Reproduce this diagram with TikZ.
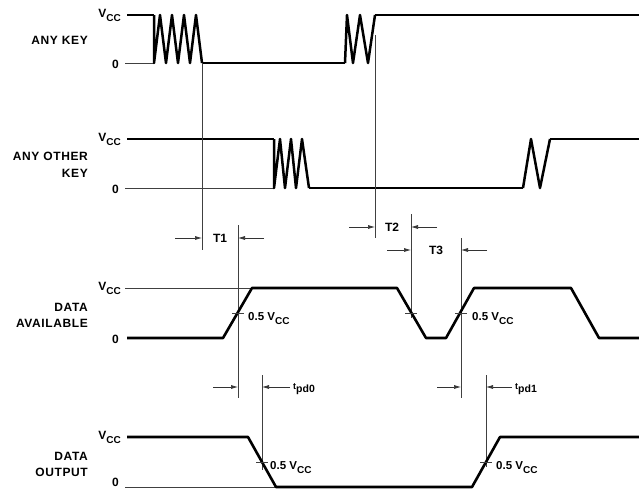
\documentclass[tikz,border=0pt]{standalone}
\usepackage{fontspec}
\setmainfont{Liberation Sans}
\newfontfamily\lblfont[LetterSpace=5]{Liberation Sans}
\usetikzlibrary{arrows.meta}
\newcommand\myvcc{V\raisebox{-4pt}{\fontsize{10}{12}\selectfont CC}}
\newcommand\mytpd[1]{{\fontsize{9}{11}\selectfont t}\raisebox{-3.5pt}{\fontsize{10.5}{12}\selectfont pd#1}}
\begin{document}
\begin{tikzpicture}[x=1pt,y=-1pt,
  wave/.style={line width=2.6pt,line join=round,line cap=butt},
  zig/.style={line width=2.5pt,line join=round},
  thin/.style={line width=0.7pt,black!75},
  arr/.style={line width=0.7pt,black!80,-{Latex[length=7pt,width=4pt]}},
  lbl/.style={font=\lblfont\bfseries\fontsize{12}{16.5}\selectfont,align=right,inner sep=0pt},
  lvl/.style={font=\bfseries\fontsize{12}{14}\selectfont,inner sep=0pt},
  half/.style={font=\bfseries\fontsize{11.5}{14}\selectfont,inner sep=0pt,anchor=base west}]
\useasboundingbox (0,0) rectangle (639,490);
% ---------- ANY KEY ----------
\node[lbl,anchor=east] (lak) at (88,40) {ANY KEY};
\node[lvl,anchor=base east] (vak) at (121,17.5) {\myvcc};
\node[lvl,anchor=east] (zak) at (119,64) {0};
\draw[thin] (125,63) -- (154,63);
\draw[wave] (127,15) -- (154,15);
\draw[zig] (154,15) -- (154,63) -- (160,15) -- (166,63) -- (172,15) -- (178,63) -- (184,15) -- (190,63) -- (196,15) -- (202,63);
\draw[wave] (202,63) -- (345,63);
\draw[zig] (345,63) -- (347,15) -- (353,63) -- (360,15) -- (368,63) -- (375,15);
\draw[wave] (375,15) -- (640,15);
% ---------- ANY OTHER KEY ----------
\node[lbl,anchor=east] (lok) at (88,165) {ANY OTHER\\KEY};
\node[lvl,anchor=base east] (vok) at (121,141.5) {\myvcc};
\node[lvl,anchor=east] (zok) at (119,189) {0};
\draw[thin] (125,188) -- (274,188);
\draw[wave] (127,139) -- (274,139);
\draw[zig] (274,139) -- (274,188) -- (280,139) -- (285,188) -- (291,139) -- (296,188) -- (302,139) -- (309,188);
\draw[wave] (309,188) -- (523,188);
\draw[zig] (523,188) -- (531,139) -- (540,188) -- (550,139);
\draw[wave] (550,139) -- (640,139);
% ---------- guide lines ----------
\coordinate (g1a) at (202,63);  \coordinate (g1b) at (202,250);
\coordinate (g2a) at (375,35);  \coordinate (g2b) at (375,238);
\coordinate (g3a) at (238,225); \coordinate (g3b) at (238,398);
\coordinate (g4a) at (411,214); \coordinate (g4b) at (411,318);
\coordinate (g5a) at (461,238); \coordinate (g5b) at (461,398);
\coordinate (g6a) at (262,375); \coordinate (g6b) at (262,470);
\coordinate (g7a) at (486,375); \coordinate (g7b) at (486,467);
\foreach \g in {1,...,7} {\draw[thin] (g\g a) -- (g\g b);}
% ---------- T1, T2, T3 ----------
\coordinate (t1l) at (175,238); \coordinate (t1r) at (264,238);
\draw[arr] (t1l) -- (202,238);
\draw[arr] (t1r) -- (238,238);
\node[lvl] (t1) at (220,238) {T1};
\coordinate (t2l) at (349,227); \coordinate (t2r) at (437,227);
\draw[arr] (t2l) -- (375,227);
\draw[arr] (t2r) -- (411,227);
\node[lvl] (t2) at (392,227) {T2};
\coordinate (t3l) at (387,250); \coordinate (t3r) at (487,250);
\draw[arr] (t3l) -- (411,250);
\draw[arr] (t3r) -- (461,250);
\node[lvl] (t3) at (436,250) {T3};
% ---------- DATA AVAILABLE ----------
\node[lbl,anchor=east] (lda) at (88,315.5) {DATA\\AVAILABLE};
\node[lvl,anchor=base east] (vda) at (121,290.5) {\myvcc};
\node[lvl,anchor=east] (zda) at (119,339) {0};
\draw[thin] (125,288) -- (252,288);
\draw[wave] (127,338) -- (223,338) -- (252,288) -- (397,288) -- (426,338) -- (446,338) -- (474,288) -- (571,288) -- (599,338) -- (640,338);
\draw[thin] (232,313) -- (244,313);
\draw[thin] (405,313) -- (417,313);
\draw[thin] (455,313) -- (467,313);
\node[half] (hda1) at (248,320) {0.5 \myvcc};
\node[half] (hda2) at (472,320) {0.5 \myvcc};
% ---------- tpd ----------
\coordinate (p0l) at (213,387); \coordinate (p0r) at (290,387);
\draw[arr] (p0l) -- (238,387);
\draw[arr] (p0r) -- (262,387);
\node[lvl,anchor=base west] (tp0) at (293,389) {\mytpd{0}};
\coordinate (p1l) at (437,387); \coordinate (p1r) at (512,387);
\draw[arr] (p1l) -- (461,387);
\draw[arr] (p1r) -- (486,387);
\node[lvl,anchor=base west] (tp1) at (515,389) {\mytpd{1}};
% ---------- DATA OUTPUT ----------
\node[lbl,anchor=east] (ldo) at (88,464.5) {DATA\\OUTPUT};
\node[lvl,anchor=base east] (vdo) at (121,439.5) {\myvcc};
\node[lvl,anchor=east] (zdo) at (119,482.5) {0};
\draw[thin] (125,487) -- (276,487);
\draw[wave] (127,437) -- (248,437) -- (276,487) -- (472,487) -- (500,437) -- (640,437);
\draw[thin] (256,462) -- (268,462);
\draw[thin] (480,462) -- (492,462);
\node[half] (hdo1) at (270,469) {0.5 \myvcc};
\node[half] (hdo2) at (496,469) {0.5 \myvcc};
\end{tikzpicture}
\end{document}
